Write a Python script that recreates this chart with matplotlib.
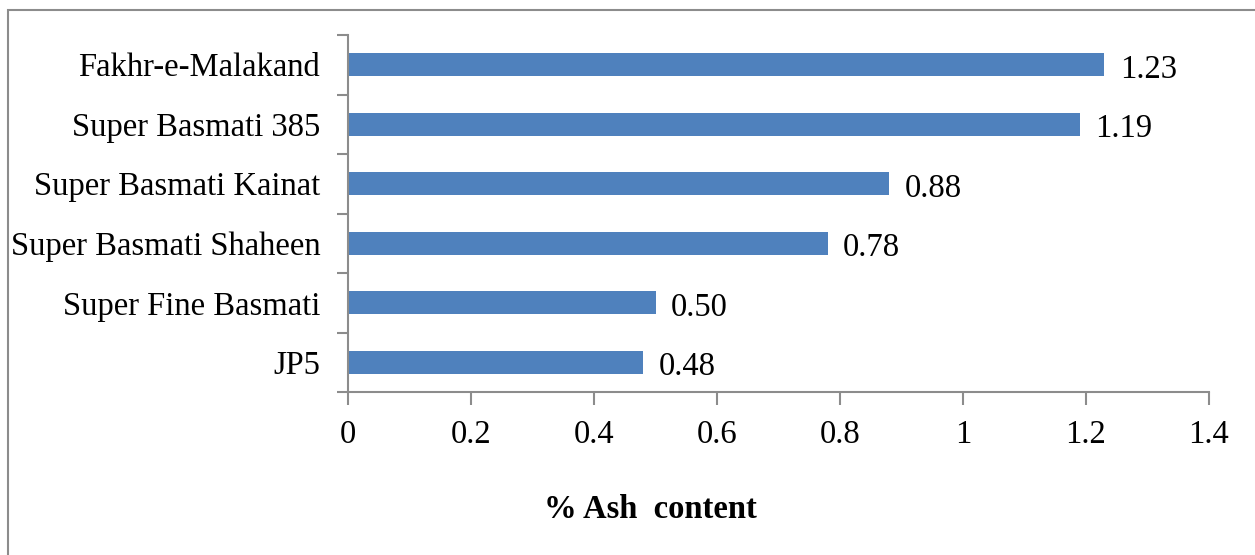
import matplotlib.pyplot as plt
from matplotlib.patches import Rectangle

plt.rcParams['font.family'] = ['Liberation Serif', 'DejaVu Serif']
plt.rcParams['font.size'] = 23.5

varieties = ['JP5', 'Super Fine Basmati', 'Super Basmati Shaheen',
             'Super Basmati Kainat', 'Super Basmati 385', 'Fakhr-e-Malakand']
ash = [0.48, 0.50, 0.78, 0.88, 1.19, 1.23]
xticks = [0, 0.2, 0.4, 0.6, 0.8, 1, 1.2, 1.4]
xticklabels = ['0', '0.2', '0.4', '0.6', '0.8', '1', '1.2', '1.4']

bar_color = '#4F81BD'
axis_color = '#8C8C8C'

fig = plt.figure(figsize=(12.55, 5.55), dpi=100)
ax = fig.add_axes([348 / 1255, 1 - 392 / 555, (1209 - 348) / 1255, (392 - 35) / 555])

pos = range(len(varieties))
ax.barh(pos, ash, height=0.39, color=bar_color)
for y, v in zip(pos, ash):
    ax.annotate(f'{v:.2f}', (v, y), xytext=(11, -1), textcoords='offset points',
                ha='left', va='center_baseline')

ax.set_xlim(0, 1.4)
ax.set_ylim(-0.5, len(varieties) - 0.5)
ax.set_xticks(xticks)
ax.set_xticklabels(xticklabels)
ax.set_yticks(list(pos))
ax.set_yticklabels(varieties)
ax.set_yticks([i - 0.5 for i in range(len(varieties) + 1)], minor=True)

ax.tick_params(axis='y', which='major', length=0, pad=20)
ax.tick_params(axis='y', which='minor', length=8, width=1.5, color=axis_color)
ax.tick_params(axis='x', length=9, width=1.5, color=axis_color, pad=11)

for side in ['top', 'right']:
    ax.spines[side].set_visible(False)
for side in ['left', 'bottom']:
    ax.spines[side].set_color(axis_color)
    ax.spines[side].set_linewidth(1.5)

fig.text(650 / 1255, 1 - 518 / 555, '% Ash  content', ha='center', va='baseline',
         fontweight='bold')

# outer frame running off the right and bottom edges
fig.patches.append(Rectangle((8 / 1255, -0.1), 1.2, 1.082, transform=fig.transFigure,
                             fill=False, edgecolor=axis_color, linewidth=1.5))

fig.savefig('out.png', dpi=100)
